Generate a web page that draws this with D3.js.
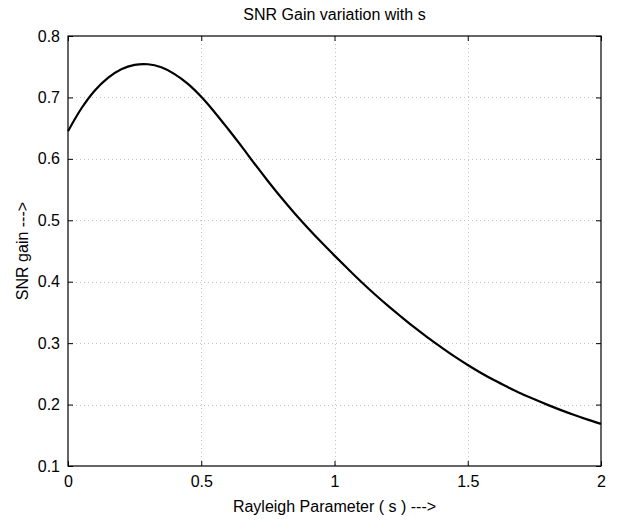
<!DOCTYPE html>
<html>
<head>
<meta charset="utf-8">
<script src="https://cdn.jsdelivr.net/npm/d3@7"></script>
<style>
  body { margin: 0; background: #fff; }
  svg text { font-family: "Liberation Sans", Arial, Helvetica, sans-serif; fill: #000; }
</style>
</head>
<body>
<div class="chart"></div>
<script>
// Data.
const sValues = [0, 0.05, 0.1, 0.15, 0.2, 0.25, 0.3, 0.35, 0.4, 0.45, 0.5, 0.55, 0.6, 0.65, 0.7, 0.75, 0.8, 0.85, 0.9, 0.95, 1.0, 1.05, 1.1, 1.15, 1.2, 1.25, 1.3, 1.35, 1.4, 1.45, 1.5, 1.55, 1.6, 1.65, 1.7, 1.75, 1.8, 1.85, 1.9, 1.95, 2.0];
const gainValues = [0.645, 0.682, 0.711, 0.732, 0.746, 0.753, 0.754, 0.749, 0.738, 0.722, 0.701, 0.676, 0.649, 0.621, 0.592, 0.564, 0.537, 0.5115, 0.4875, 0.4645, 0.4425, 0.421, 0.400, 0.380, 0.361, 0.343, 0.3255, 0.309, 0.2935, 0.2785, 0.2645, 0.2515, 0.2395, 0.2285, 0.218, 0.2085, 0.1995, 0.191, 0.183, 0.1755, 0.1685];
const xTicks = [0, 0.5, 1, 1.5, 2];
const yTicks = [0.1, 0.2, 0.3, 0.4, 0.5, 0.6, 0.7, 0.8];

const titleText = "SNR Gain variation with s";
const xLabelText = "Rayleigh Parameter ( s ) --->";
const yLabelText = "SNR gain --->";

// Layout.
const W = 629, H = 529;
const margin = { top: 36, right: 28, bottom: 63, left: 68 };
const width = W - margin.left - margin.right;
const height = H - margin.top - margin.bottom;

const svg = d3.select(".chart").append("svg")
  .attr("width", W)
  .attr("height", H);

const g = svg.append("g")
  .attr("transform", `translate(${margin.left},${margin.top})`);

// Scales.
const x = d3.scaleLinear().domain([0, 2]).range([0, width]);
const y = d3.scaleLinear().domain([0.1, 0.8]).range([height, 0]);

// Grid.
const grid = g.append("g").attr("class", "grid")
  .attr("stroke", "#c4c4c4")
  .attr("stroke-width", 1)
  .attr("stroke-dasharray", "1,3");
grid.selectAll(".gx").data(xTicks.slice(1, -1)).enter().append("line")
  .attr("x1", d => Math.round(x(d)) + 0.5).attr("x2", d => Math.round(x(d)) + 0.5)
  .attr("y1", 0).attr("y2", height);
grid.selectAll(".gy").data(yTicks.slice(1, -1)).enter().append("line")
  .attr("y1", d => Math.round(y(d)) + 0.5).attr("y2", d => Math.round(y(d)) + 0.5)
  .attr("x1", 0).attr("x2", width);

// Axes (MATLAB style: ticks inward on all four sides).
const tick = 5;
const fmt = d3.format("~g");
const axisFont = "16px";

const xAxis = g.append("g").attr("transform", `translate(0,${height})`)
  .call(d3.axisBottom(x).tickValues(xTicks).tickFormat(fmt).tickSizeInner(-tick).tickSizeOuter(0).tickPadding(tick + 5));
const xAxisTop = g.append("g")
  .call(d3.axisTop(x).tickValues(xTicks).tickFormat("").tickSizeInner(-tick).tickSizeOuter(0));
const yAxis = g.append("g")
  .call(d3.axisLeft(y).tickValues(yTicks).tickFormat(fmt).tickSizeInner(-tick).tickSizeOuter(0).tickPadding(tick + 3));
const yAxisRight = g.append("g").attr("transform", `translate(${width},0)`)
  .call(d3.axisRight(y).tickValues(yTicks).tickFormat("").tickSizeInner(-tick).tickSizeOuter(0));

[xAxis, xAxisTop, yAxis, yAxisRight].forEach(a => {
  a.select(".domain").remove();
  a.selectAll("line").attr("stroke", "#000");
  a.selectAll("text").style("font-size", axisFont).attr("fill", "#000");
});

// Box.
g.append("rect")
  .attr("x", 0).attr("y", 0)
  .attr("width", width).attr("height", height)
  .attr("fill", "none")
  .attr("stroke", "#000")
  .attr("stroke-width", 1.2);

// Curve.
const pts = sValues.map((s, i) => [s, gainValues[i]]);
g.append("path")
  .datum(pts)
  .attr("fill", "none")
  .attr("stroke", "#000")
  .attr("stroke-width", 2.2)
  .attr("stroke-linejoin", "round")
  .attr("d", d3.line().x(d => x(d[0])).y(d => y(d[1])).curve(d3.curveCatmullRom));

// Title and labels.
svg.append("text")
  .attr("x", margin.left + width / 2)
  .attr("y", 20)
  .attr("text-anchor", "middle")
  .style("font-size", "16px")
  .text(titleText);

svg.append("text")
  .attr("x", margin.left + width / 2)
  .attr("y", H - 17)
  .attr("text-anchor", "middle")
  .style("font-size", "16px")
  .text(xLabelText);

svg.append("text")
  .attr("transform", `translate(28,${margin.top + height / 2}) rotate(-90)`)
  .attr("text-anchor", "middle")
  .style("font-size", "16px")
  .text(yLabelText);
</script>
</body>
</html>
